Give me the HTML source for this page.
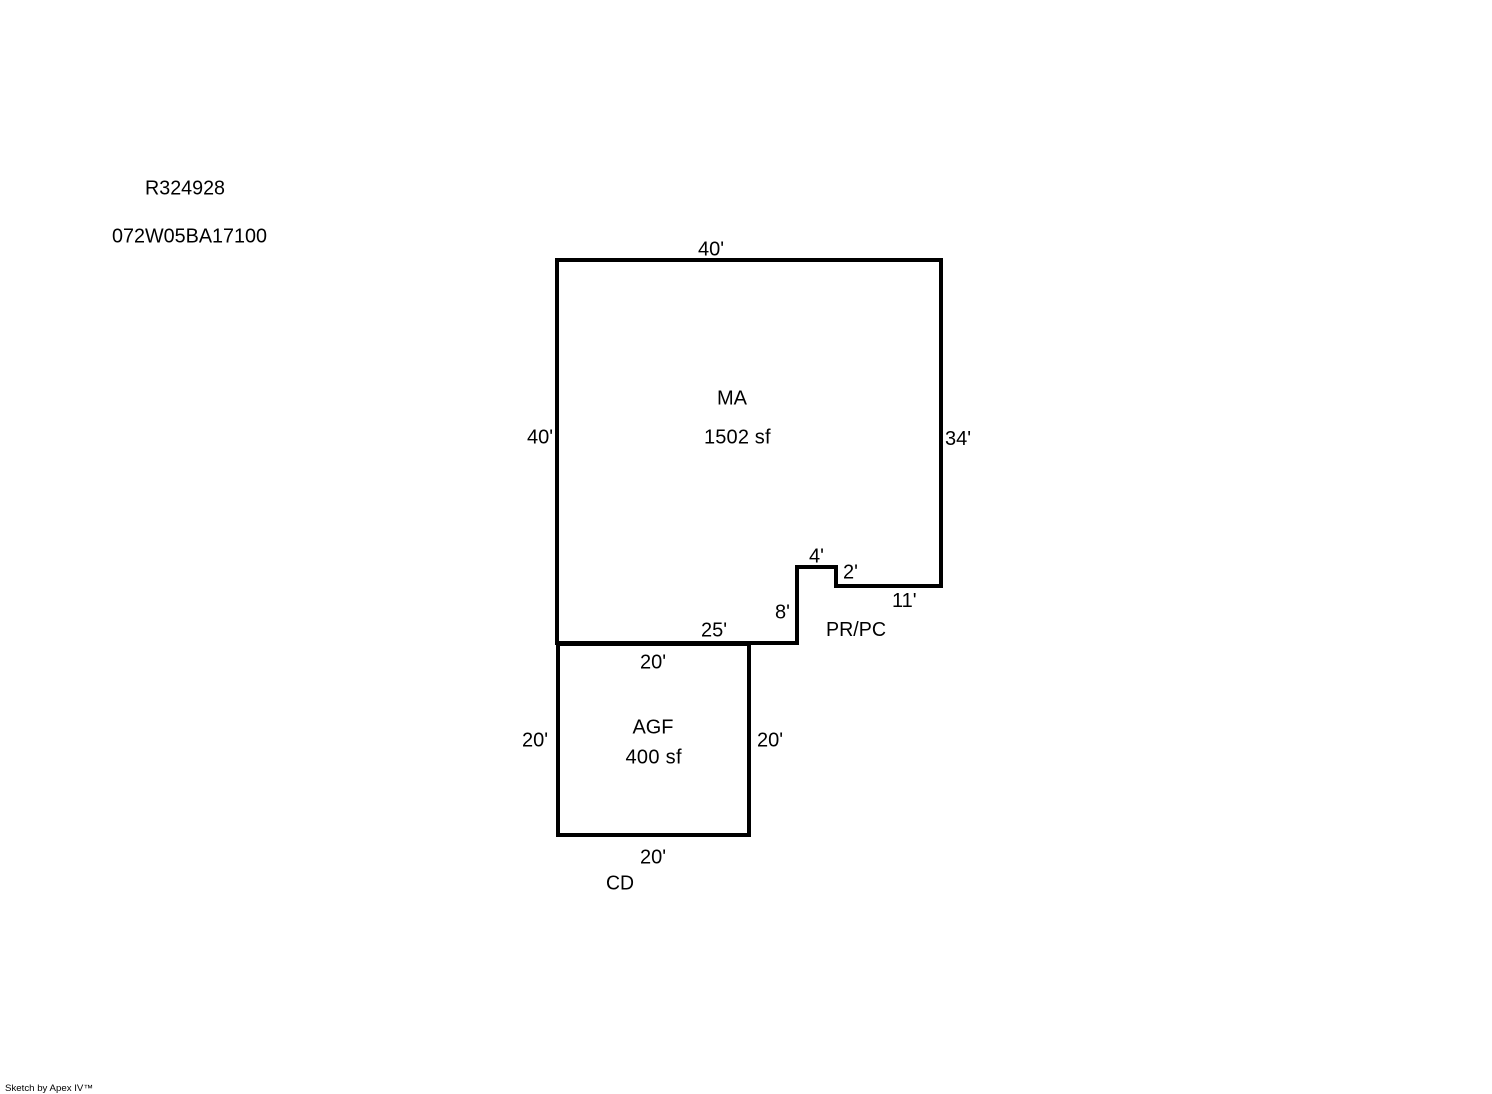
<!DOCTYPE html>
<html>
<head>
<meta charset="utf-8">
<style>
html,body{margin:0;padding:0;background:#fff;width:1492px;height:1094px;overflow:hidden}
svg{display:block}
text{font-family:"Liberation Sans",Arial,sans-serif;font-size:20px;fill:#000}
</style>
</head>
<body>
<svg width="1492" height="1094" viewBox="0 0 1492 1094" xmlns="http://www.w3.org/2000/svg">
<rect width="1492" height="1094" fill="#fff"/>
<g fill="none" stroke="#000" stroke-width="4" stroke-linejoin="miter" stroke-linecap="square" shape-rendering="crispEdges">
<path d="M557 260H941V586H836V567H797V643H557Z"/>
<path d="M558 644H749V835H558Z"/>
</g>
<text x="145" y="194.5" textLength="80" lengthAdjust="spacingAndGlyphs">R324928</text>
<text x="112" y="242.5" textLength="155" lengthAdjust="spacingAndGlyphs">072W05BA17100</text>
<text x="698" y="255.5">40'</text>
<text x="717" y="404.5">MA</text>
<text x="704" y="443.5" textLength="66.5" lengthAdjust="spacing">1502 sf</text>
<text x="527" y="443.5">40'</text>
<text x="945" y="445">34'</text>
<text x="809" y="562.5">4'</text>
<text x="843" y="578.5">2'</text>
<text x="892" y="607">11'</text>
<text x="775" y="618.5">8'</text>
<text x="701" y="636.5">25'</text>
<text x="826" y="636" textLength="60" lengthAdjust="spacingAndGlyphs">PR/PC</text>
<text x="640" y="668.5">20'</text>
<text x="632.5" y="733.5" textLength="41" lengthAdjust="spacingAndGlyphs">AGF</text>
<text x="625.5" y="763.5" textLength="56" lengthAdjust="spacing">400 sf</text>
<text x="522" y="746.5">20'</text>
<text x="757" y="746.5">20'</text>
<text x="640" y="863.5">20'</text>
<text x="606" y="889.5" textLength="28" lengthAdjust="spacingAndGlyphs">CD</text>
<text x="5" y="1091" style="font-size:9px" textLength="88" lengthAdjust="spacingAndGlyphs">Sketch by Apex IV™</text>
</svg>
</body>
</html>
